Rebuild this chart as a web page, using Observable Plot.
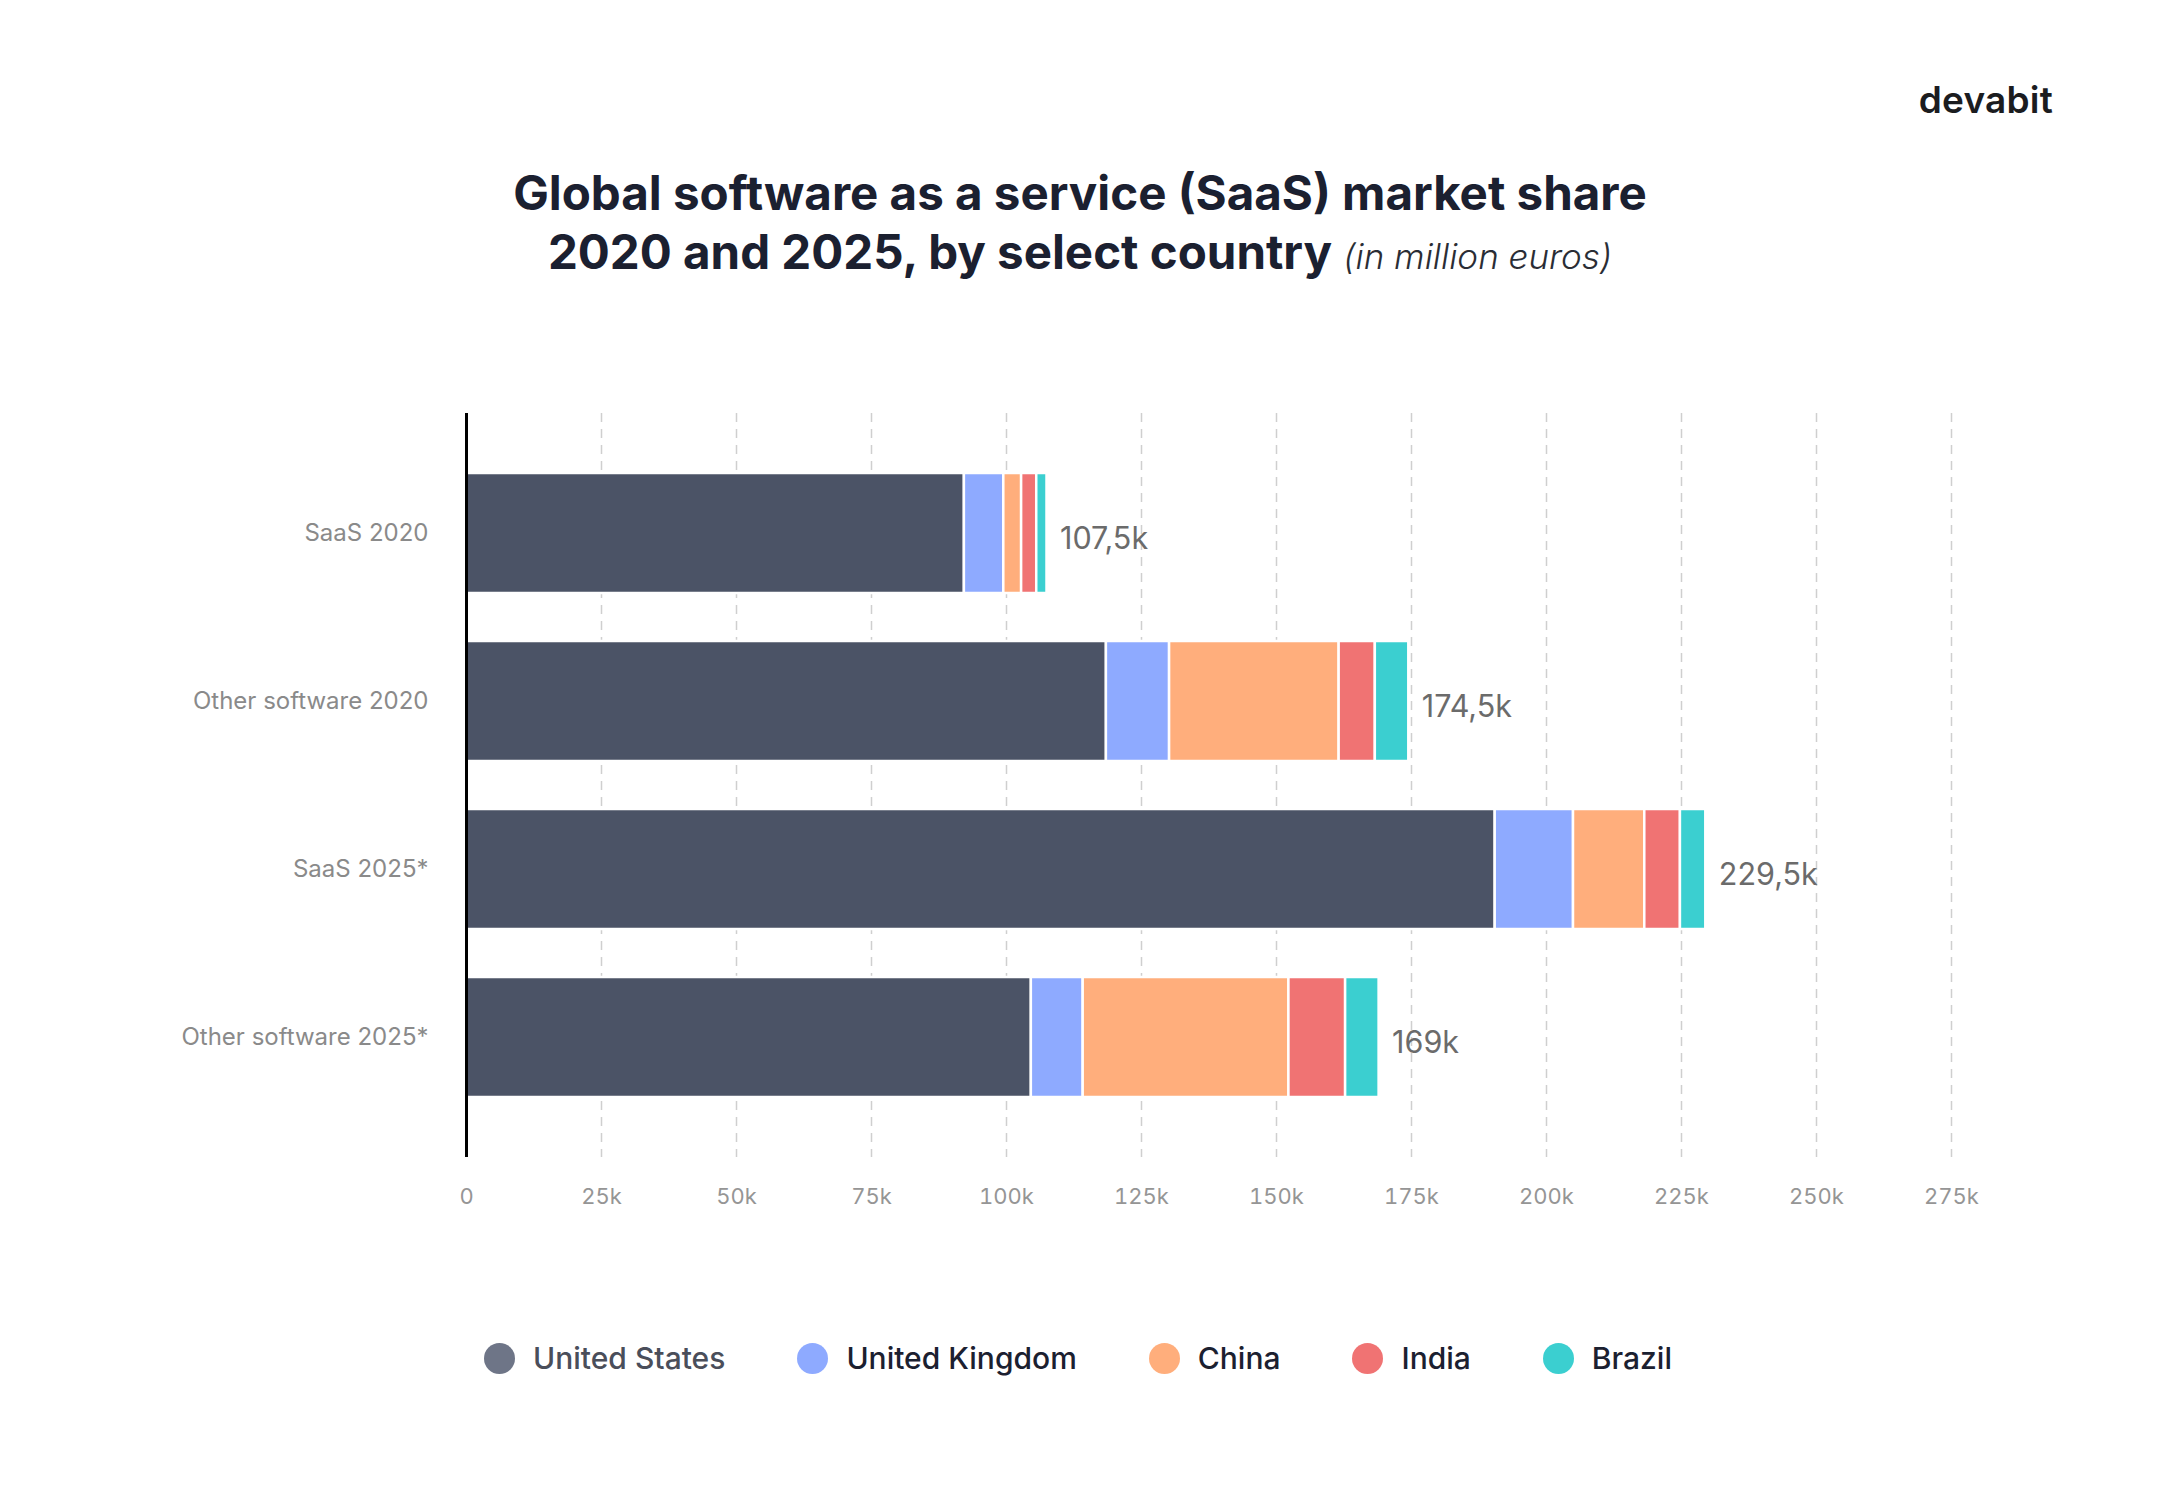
<!DOCTYPE html>
<html>
<head>
<meta charset="utf-8">
<script src="https://cdn.jsdelivr.net/npm/d3@7"></script>
<script src="https://cdn.jsdelivr.net/npm/@observablehq/plot@0.6"></script>
<style>
  html, body { margin: 0; padding: 0; background: #ffffff; }
  body { width: 2160px; height: 1506px; position: relative; overflow: hidden; font-family: Inter, "Noto Sans", sans-serif; }
  #logo { position: absolute; right: 107px; top: 77px; font-size: 37px; font-weight: 600; color: #1b1c1f; letter-spacing: 0.2px; }
  #title { position: absolute; left: 0; width: 2160px; top: 163px; text-align: center; color: #1b2030; font-weight: 700; font-size: 47.5px; line-height: 59px; }
  #title .sub { font-style: italic; font-weight: 300; font-size: 35px; color: #2a2d35; }
  #chart { position: absolute; left: 0; top: 380px; }
  #legend { position: absolute; left: 484px; top: 1340px; display: flex; align-items: center; gap: 72px; font-size: 30px; font-weight: 500; }
  #legend .item { display: flex; align-items: center; gap: 18px; }
  #legend .dot { width: 31px; height: 31px; border-radius: 50%; }
</style>
</head>
<body>
<div id="logo">devabit</div>
<div id="title">Global software as a service (SaaS) market share<br>2020 and 2025, by select country <span class="sub">(in million euros)</span></div>
<div id="chart"></div>
<div id="legend"></div>
<script>
// Categories (y axis)
const categories = ["SaaS 2020", "Other software 2020", "SaaS 2025*", "Other software 2025*"];
// Series (in million euros)
const countries = ["United States", "United Kingdom", "China", "India", "Brazil"];
const unitedStates  = [92200, 118500, 190500, 104600];
const unitedKingdom = [7300, 11700, 14500, 9600];
const china         = [3300, 31400, 13200, 38100];
const india         = [2800, 6700, 6600, 10500];
const brazil        = [1900, 6200, 4700, 6200];
// Colours
const barColors    = ["#4b5366", "#8eaaff", "#ffae7c", "#f07373", "#3bcfd0"];
const legendColors = ["#6e7587", "#8eaaff", "#ffae7c", "#f07373", "#3bcfd0"];
const legendText   = ["#4a4e5a", "#1b2030", "#1b2030", "#1b2030", "#1b2030"];
// X tick values
const xTicks = [0, 25000, 50000, 75000, 100000, 125000, 150000, 175000, 200000, 225000, 250000, 275000];

const series = [unitedStates, unitedKingdom, china, india, brazil];
const rows = [];
categories.forEach((c, i) => {
  countries.forEach((k, j) => rows.push({category: c, country: k, value: series[j][i]}));
});
const totals = categories.map((c, i) => {
  const t = d3.sum(series, s => s[i]);
  const k = Math.round(t / 100) / 10;
  return {category: c, total: t, label: String(k).replace(".", ",") + "k"};
});

const chart = Plot.plot({
  width: 2160,
  height: 860,
  marginLeft: 466,
  marginRight: 209,
  marginTop: 33,
  marginBottom: 83,
  style: {fontFamily: "Inter, 'Noto Sans', sans-serif", background: "transparent"},
  x: {domain: [0, 275000], label: null},
  y: {domain: categories, paddingInner: 0.286, paddingOuter: 0.357, label: null},
  color: {domain: countries, range: barColors},
  marks: [
    Plot.ruleX(xTicks.slice(1), {stroke: "#cfcfcf", strokeWidth: 1.5, strokeDasharray: "9,7"}),
    Plot.barX(rows, {x: "value", y: "category", fill: "country", stroke: "#ffffff", strokeWidth: 2.5}),
    Plot.ruleX([0], {stroke: "#000000", strokeWidth: 3}),
    Plot.text(totals, {x: "total", y: "category", text: "label", dx: 13, dy: 6, textAnchor: "start", fontSize: 30.5, fill: "#6b6b6b"}),
    Plot.axisX({ticks: xTicks, tickSize: 0, tickPadding: 31, fontSize: 22, fill: "#959595", tickFormat: d => d === 0 ? "0" : (d / 1000) + "k", label: null}),
    Plot.axisY({tickSize: 0, tickPadding: 38, fontSize: 24, fill: "#8a8a8a", label: null})
  ]
});
document.getElementById("chart").appendChild(chart);

const legend = document.getElementById("legend");
countries.forEach((k, j) => {
  const item = document.createElement("div");
  item.className = "item";
  const dot = document.createElement("div");
  dot.className = "dot";
  dot.style.background = legendColors[j];
  const label = document.createElement("span");
  label.textContent = k;
  label.style.color = legendText[j];
  item.appendChild(dot);
  item.appendChild(label);
  legend.appendChild(item);
});
</script>
</body>
</html>
